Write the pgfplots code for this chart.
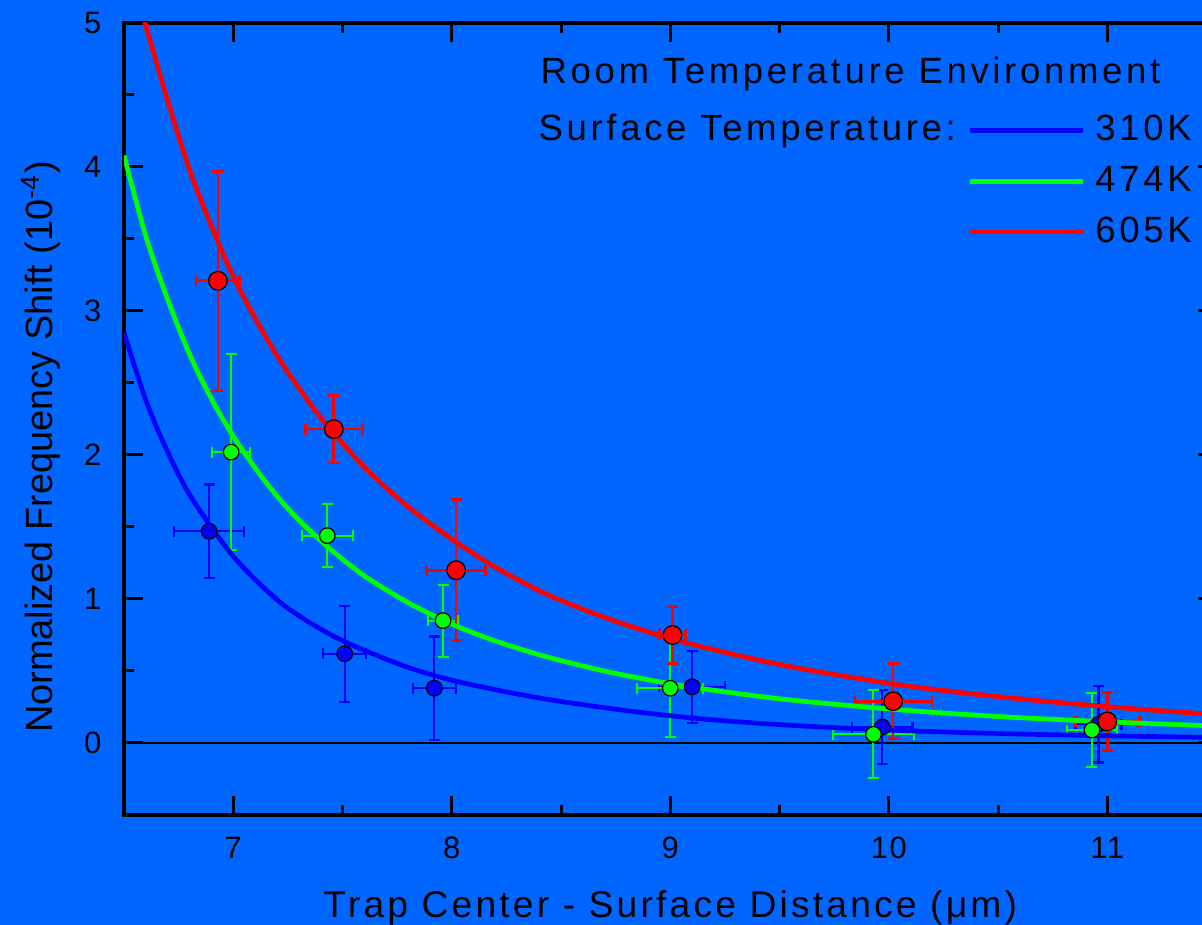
\documentclass[border=0pt]{standalone}
\usepackage{pgfplots}
\pgfplotsset{compat=1.18}
\usepackage{pgfplotstable}
\usepackage{fontspec}
\setmainfont{Liberation Sans}
\newfontfamily\legendfont[LetterSpace=10]{Liberation Sans}
\newfontfamily\labelfont[LetterSpace=8.5]{Liberation Sans}
\newfontfamily\tickfont[LetterSpace=5]{Liberation Sans}

\definecolor{bgblue}{RGB}{0,102,255}
\definecolor{cblue}{RGB}{0,0,255}
\definecolor{cgreen}{RGB}{0,255,0}
\definecolor{cred}{RGB}{255,0,0}

% measured shifts: distance, shift, distance error, shift error
\pgfplotstableread{
x     y     ex     ey
6.89  1.47  0.160  0.325
7.51  0.62  0.098  0.333
7.92  0.38  0.098  0.360
9.10  0.39  0.150  0.250
9.97  0.11  0.138  0.256
10.96 0.13  0.105  0.265
}\bluepts
\pgfplotstableread{
x     y     ex     ey
6.99  2.02  0.088  0.680
7.43  1.44  0.117  0.220
7.96  0.85  0.070  0.250
9.00  0.38  0.150  0.340
9.93  0.06  0.187  0.305
10.93 0.09  0.115  0.258
}\greenpts
\pgfplotstableread{
x     y     ex     ey
6.93  3.21  0.100  0.760
7.46  2.18  0.130  0.235
8.02  1.20  0.135  0.490
9.01  0.75  0.060  0.200
10.02 0.29  0.178  0.260
11.00 0.15  0.147  0.200
}\redpts

% fitted curves
\pgfplotstableread{
x     y
6.50  2.85
6.60  2.38
6.70  2.02
6.79  1.75
6.89  1.52
6.99  1.315
7.10  1.135
7.22  0.97
7.33  0.855
7.43  0.765
7.53  0.69
7.63  0.625
7.80  0.525
7.99  0.44
8.20  0.37
8.45  0.30
8.80  0.225
9.14  0.168
9.55  0.123
10.02 0.089
10.50 0.066
11.00 0.050
11.50 0.038
}\bluefit
\pgfplotstableread{
x     y
6.50  4.08
6.60  3.52
6.70  3.08
6.80  2.70
6.90  2.39
7.00  2.13
7.10  1.91
7.20  1.715
7.30  1.548
7.43  1.365
7.53  1.24
7.63  1.13
7.80  0.975
7.99  0.832
8.20  0.708
8.45  0.592
8.75  0.483
9.06  0.397
9.50  0.307
10.02 0.234
10.50 0.184
11.00 0.147
11.50 0.118
}\greenfit
\pgfplotstableread{
x     y
6.56  5.20
6.60  4.98
6.70  4.46
6.80  3.98
6.90  3.59
7.00  3.24
7.10  2.95
7.20  2.69
7.30  2.465
7.40  2.26
7.53  2.03
7.63  1.87
7.80  1.64
8.01  1.405
8.20  1.22
8.45  1.022
8.75  0.845
9.05  0.705
9.50  0.545
10.02 0.41
10.50 0.322
11.00 0.252
11.50 0.197
}\redfit

\pgfplotsset{
  datapts/.style 2 args={only marks, mark=*, mark size=#1,
    mark options={draw=black, fill=#2, line width=0.35pt},
    error bars/x dir=both, error bars/x explicit,
    error bars/y dir=both, error bars/y explicit},
  fitline/.style={no marks, smooth, line width=1.35pt},
}

\begin{document}
\begin{tikzpicture}
\path[use as bounding box] (0,0) rectangle (120.2mm,92.5mm);
\fill[bgblue] (0,0) rectangle (120.2mm,92.5mm);
\clip (0,0) rectangle (120.2mm,92.5mm);
\begin{axis}[
  at={(12.4mm,11.0mm)}, anchor=south west,
  scale only axis, width=109.25mm, height=79.2mm,
  xmin=6.5, xmax=11.5, ymin=-0.5, ymax=5,
  xtick={7,8,9,10,11}, ytick={0,1,2,3,4,5},
  minor xtick={6.5,7.5,...,11.5}, minor ytick={-0.5,0.5,...,4.5},
  tick align=inside, major tick length=1.9mm, minor tick length=1.0mm,
  tick style={line width=0.3mm, black},
  axis line style={line width=0.33mm, black},
  /pgf/number format/assume math mode=true,
  xticklabel style={inner sep=0pt, anchor=north, yshift=-2.15mm,
    font=\tickfont\fontsize{8.8}{10}\selectfont},
  yticklabel style={inner sep=0pt, anchor=east, xshift=-2.2mm,
    font=\tickfont\fontsize{8.8}{10}\selectfont},
  xlabel={Trap Center - Surface Distance (μm)},
  ylabel={Normalized Frequency Shift (10\textsuperscript{-4})},
  xlabel style={at={(axis description cs:0.5,-0.1288)}, anchor=base, inner sep=0pt,
    font=\labelfont\fontsize{10.6}{12}\selectfont},
  ylabel style={at={(axis description cs:-0.065,0.4646)}, anchor=base, inner sep=0pt,
    font=\fontsize{10.8}{12}\selectfont},
  legend style={at={(axis description cs:0.7716,0.8842)}, anchor=north west,
    draw=none, fill=none, inner sep=0pt, row sep=2.0mm, column sep=1.0mm,
    font=\legendfont\fontsize{10.4}{12}\selectfont,
    nodes={inner sep=0pt}},
  legend cell align=left,
  legend image code/.code={\draw[#1, line width=1.35pt] (0mm,0mm) -- (11.3mm,0mm);},
]
\draw[black, line width=0.2mm] (axis cs:6.5,0) -- (axis cs:11.5,0);

\addplot[datapts={0.78mm}{cblue}, color=cblue,
  error bars/error bar style={line width=0.23mm, cblue},
  error bars/error mark options={rotate=90, mark size=0.55mm, line width=0.23mm, cblue}]
  table[x=x, y=y, x error=ex, y error=ey] {\bluepts};
\addplot[datapts={0.78mm}{cgreen}, color=cgreen,
  error bars/error bar style={line width=0.2mm, cgreen},
  error bars/error mark options={rotate=90, mark size=0.55mm, line width=0.2mm, cgreen}]
  table[x=x, y=y, x error=ex, y error=ey] {\greenpts};
\addplot[datapts={0.93mm}{cred}, color=cred,
  error bars/error bar style={line width=0.27mm, cred},
  error bars/error mark options={rotate=90, mark size=0.55mm, line width=0.27mm, cred}]
  table[x=x, y=y, x error=ex, y error=ey] {\redpts};

\addplot[fitline, cblue] table[x=x, y=y] {\bluefit};
\addlegendentry{310K}
\addplot[fitline, cgreen] table[x=x, y=y] {\greenfit};
\addlegendentry{474K}
\addplot[fitline, cred] table[x=x, y=y] {\redfit};
\addlegendentry{605K}

\node[anchor=base west, inner sep=0pt, font=\legendfont\fontsize{10.4}{12}\selectfont]
  at (axis description cs:0.3808,0.9239) {Room Temperature Environment};
\node[anchor=base west, inner sep=0pt, font=\legendfont\fontsize{10.4}{12}\selectfont]
  at (axis description cs:0.3789,0.851) {Surface Temperature:};
\end{axis}
\end{tikzpicture}
\end{document}
